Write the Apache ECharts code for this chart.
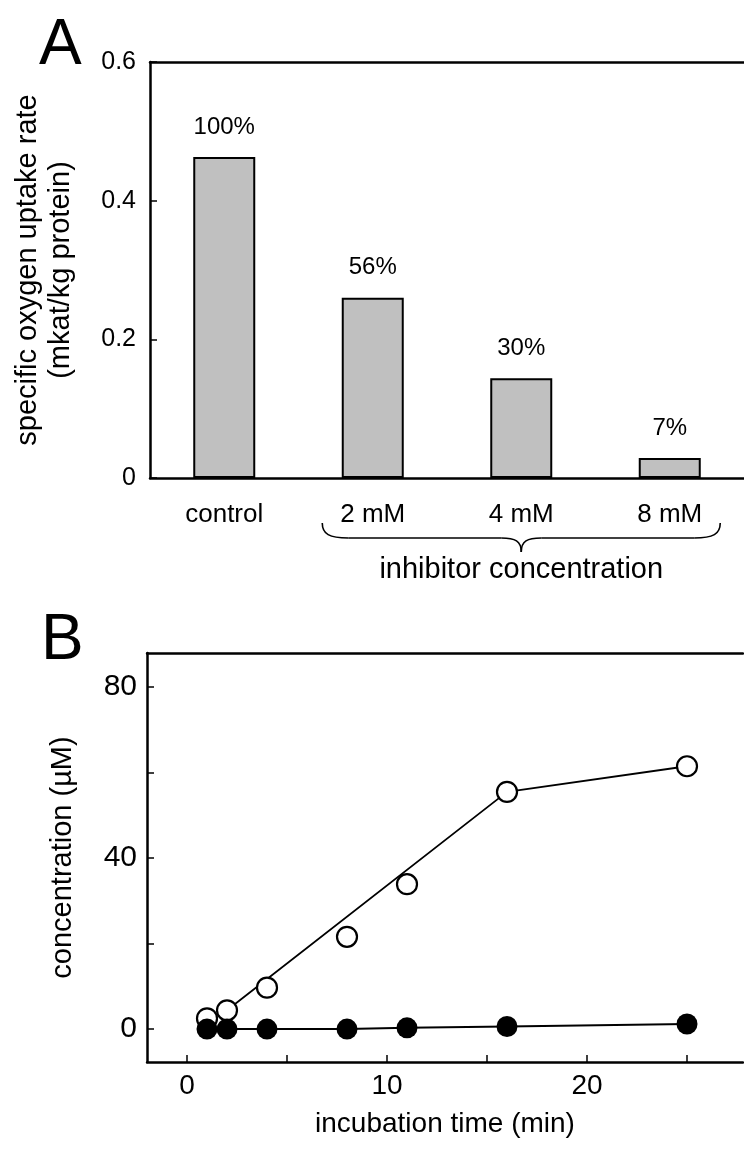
<!DOCTYPE html>
<html><head><meta charset="utf-8">
<script src="https://cdn.jsdelivr.net/npm/echarts@6/dist/echarts.min.js"></script>
<style>html,body{margin:0;padding:0;background:#fff}#c{width:744px;height:1149px}</style>
</head><body><div id="c"></div>
<script>
// ---- Panel A data ----
const categories = ['control', '2 mM', '4 mM', '8 mM'];
const uptakeRate = [0.463, 0.26, 0.144, 0.029];
const percentLabels = ['100%', '56%', '30%', '7%'];
// ---- Panel B data ----
const timeMin = [1, 2, 4, 8, 11, 16, 25];
const openConc = [2.5, 4.4, 9.7, 21.6, 33.9, 55.5, 61.5];
const filledConc = [0, 0, 0, 0, 0.3, 0.6, 1.2];
const openTrendTime = [2, 16, 25];
const openTrendConc = [4.4, 55.5, 61.5];
const timeTicks = [0, 5, 10, 15, 20, 25];
const timeLabels = [0, 10, 20];
const concTicks = [0, 20, 40, 60, 80];
const concLabels = [0, 40, 80];

const FONT = '"Liberation Sans", Arial, Helvetica, sans-serif';
const chart = echarts.init(document.getElementById('c'), null, {renderer: 'canvas'});
const axisLine = {show: true, onZero: false, lineStyle: {color: '#000', width: 2.5}};

chart.setOption({
  animation: false,
  backgroundColor: '#fff',
  textStyle: {fontFamily: FONT, color: '#000'},
  grid: [
    {left: 150, top: 62, width: 603, height: 416},
    {left: 147, top: 653, width: 596, height: 409}
  ],
  xAxis: [
    {gridIndex: 0, type: 'category', data: categories, boundaryGap: true,
     axisLine: axisLine, axisTick: {show: false},
     axisLabel: {margin: 24, fontSize: 26, color: '#000', fontFamily: FONT}},
    {gridIndex: 0, type: 'category', data: categories, position: 'top',
     axisLine: axisLine, axisTick: {show: false}, axisLabel: {show: false}},
    {gridIndex: 1, type: 'value', min: -2, max: 27.8, splitLine: {show: false},
     axisLine: axisLine,
     axisTick: {show: true, inside: true, length: 7, lineStyle: {color: '#000', width: 1.5}, customValues: timeTicks},
     axisLabel: {margin: 10, fontSize: 28, color: '#000', fontFamily: FONT, customValues: timeLabels},
     name: 'incubation time (min)', nameLocation: 'middle', nameGap: 48,
     nameTextStyle: {fontSize: 28, color: '#000', fontFamily: FONT}},
    {gridIndex: 1, type: 'value', min: -2, max: 27.8, position: 'top', splitLine: {show: false},
     axisLine: axisLine, axisTick: {show: false}, axisLabel: {show: false}}
  ],
  yAxis: [
    {gridIndex: 0, type: 'value', min: 0, max: 0.6, interval: 0.2, splitLine: {show: false},
     axisLine: axisLine,
     axisTick: {show: true, inside: true, length: 7, lineStyle: {color: '#000', width: 1.5}},
     axisLabel: {margin: 14, fontSize: 25, color: '#000', fontFamily: FONT},
     name: 'specific oxygen uptake rate\n(mkat/kg protein)', nameLocation: 'middle', nameGap: 73,
     nameTextStyle: {fontSize: 29, lineHeight: 33, color: '#000', fontFamily: FONT}},
    {gridIndex: 1, type: 'value', min: -7.7, max: 88, splitLine: {show: false},
     axisLine: axisLine,
     axisTick: {show: true, inside: true, length: 7, lineStyle: {color: '#000', width: 1.5}, customValues: concTicks},
     axisLabel: {margin: 10, fontSize: 30, color: '#000', fontFamily: FONT, customValues: concLabels},
     name: 'concentration (µM)', nameLocation: 'middle', nameGap: 70,
     nameTextStyle: {fontSize: 29, color: '#000', fontFamily: FONT}}
  ],
  series: [
    {type: 'bar', xAxisIndex: 0, yAxisIndex: 0, data: uptakeRate, barWidth: 62,
     itemStyle: {color: '#c0c0c0', borderColor: '#000', borderWidth: 2},
     label: {show: true, position: 'top', distance: 18, fontSize: 24, color: '#000', fontFamily: FONT,
             formatter: p => percentLabels[p.dataIndex]}},
    {type: 'line', xAxisIndex: 2, yAxisIndex: 1, z: 2, symbol: 'none',
     data: openTrendTime.map((t, i) => [t, openTrendConc[i]]),
     lineStyle: {color: '#000', width: 1.8}},
    {type: 'scatter', xAxisIndex: 2, yAxisIndex: 1, z: 3, symbol: 'circle', symbolSize: 20,
     data: timeMin.map((t, i) => [t, openConc[i]]),
     itemStyle: {color: '#fff', borderColor: '#000', borderWidth: 2.2, opacity: 1}},
    {type: 'line', xAxisIndex: 2, yAxisIndex: 1, z: 4, symbol: 'circle', symbolSize: 21, showSymbol: true,
     data: timeMin.map((t, i) => [t, filledConc[i]]),
     itemStyle: {color: '#000', borderColor: '#000', borderWidth: 0},
     lineStyle: {color: '#000', width: 2}}
  ]
});

// decorations: panel letters, brace and group label
const c2 = chart.convertToPixel({xAxisIndex: 0}, '2 mM');
const c8 = chart.convertToPixel({xAxisIndex: 0}, '8 mM');
const band = chart.convertToPixel({xAxisIndex: 0}, '4 mM') - c2;
const x1 = c2 - 0.34 * band, x2 = c8 + 0.34 * band, xc = (x1 + x2) / 2;
const y0 = 523, ym = 538, yc = 552;
const bs = {stroke: '#000', fill: null, lineWidth: 1.6};
const curve = (a, b, c, d, e, f, g, h) => ({type: 'bezierCurve', silent: true,
  shape: {x1: a, y1: b, cpx1: c, cpy1: d, cpx2: e, cpy2: f, x2: g, y2: h}, style: bs});
const seg = (a, b, c, d) => ({type: 'line', silent: true, shape: {x1: a, y1: b, x2: c, y2: d}, style: bs});

chart.setOption({
  graphic: [
    {type: 'text', x: 39, y: 46, style: {text: 'A', fontSize: 64, fontFamily: FONT, fill: '#000', verticalAlign: 'middle'}},
    {type: 'text', x: 41, y: 641, style: {text: 'B', fontSize: 64, fontFamily: FONT, fill: '#000', verticalAlign: 'middle'}},
    curve(x1, y0, x1, ym - 4, x1 + 7, ym, x1 + 26, ym),
    seg(x1 + 26, ym, xc - 20, ym),
    curve(xc - 20, ym, xc - 6, ym, xc, ym + 3, xc, yc),
    curve(xc, yc, xc, ym + 3, xc + 6, ym, xc + 20, ym),
    seg(xc + 20, ym, x2 - 26, ym),
    curve(x2 - 26, ym, x2 - 7, ym, x2, ym - 4, x2, y0),
    {type: 'text', x: xc, y: 570, style: {text: 'inhibitor concentration', fontSize: 29, fontFamily: FONT, fill: '#000', align: 'center', verticalAlign: 'middle'}}
  ]
});
</script></body></html>
